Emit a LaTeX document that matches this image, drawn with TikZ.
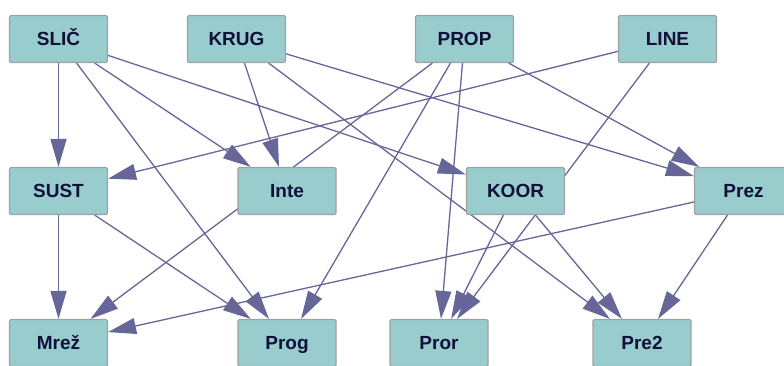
\documentclass[tikz,border=0pt]{standalone}
\usepackage{fontspec}
\setmainfont{Liberation Sans}
\usetikzlibrary{arrows.meta,backgrounds}
\definecolor{arete}{HTML}{666699}
\definecolor{boite}{HTML}{99CCCC}
\definecolor{bord}{HTML}{A0A0A0}
\definecolor{texte}{HTML}{10103A}
\begin{document}
\begin{tikzpicture}[x=1pt,y=-1pt]
\tikzstyle{sommet} = [draw=bord,line width=1.2pt,fill=boite,rounded corners=1.5pt,minimum width=98pt,minimum height=47pt,inner sep=0pt,text=texte,font=\fontsize{19}{20}\selectfont\bfseries,text height=13.5pt,text depth=0pt] %boites
\tikzstyle{fleche} = [draw=arete,line width=1.3pt,-{Triangle[length=28pt,width=16pt]}]
\useasboundingbox (0,0) rectangle (784,365);
\clip (0,0) rectangle (784,365);
%ligne du haut
\node[sommet] (slic) at (58.5,39) {SLIČ};
\node[sommet] (krug) at (236.5,39) {KRUG};
\node[sommet] (prop) at (464.5,39) {PROP};
\node[sommet] (line) at (667.5,39) {LINE};
%ligne du milieu
\node[sommet] (sust) at (58.5,191) {SUST};
\node[sommet] (inte) at (287,191) {Inte};
\node[sommet] (koor) at (515.5,191) {KOOR};
\node[sommet] (prez) at (743.5,191) {Prez};
%ligne du bas
\node[sommet] (mrez) at (58.5,343) {Mrež};
\node[sommet] (prog) at (287,343) {Prog};
\node[sommet] (pror) at (439,343) {Pror};
\node[sommet] (pre2) at (642,343) {Pre2};
%aretes sous les boites
\begin{scope}[on background layer]
\draw[fleche] (slic)--(sust);
\draw[fleche] (slic)--(inte);
\draw[fleche] (slic)--(prog);
\draw[fleche] (slic)--(koor);
\draw[fleche] (krug)--(inte);
\draw[fleche] (krug)--(prez);
\draw[fleche] (krug)--(pre2);
\draw[fleche] (prop)--(mrez);
\draw[fleche] (prop)--(prog);
\draw[fleche] (prop)--(pror);
\draw[fleche] (prop)--(prez);
\draw[fleche] (line)--(sust);
\draw[fleche] (line)--(pror);
\draw[fleche] (sust)--(mrez);
\draw[fleche] (sust)--(prog);
\draw[fleche] (koor)--(pror);
\draw[fleche] (koor)--(pre2);
\draw[fleche] (prez)--(mrez);
\draw[fleche] (prez)--(pre2);
\end{scope}
\end{tikzpicture}
\end{document}
